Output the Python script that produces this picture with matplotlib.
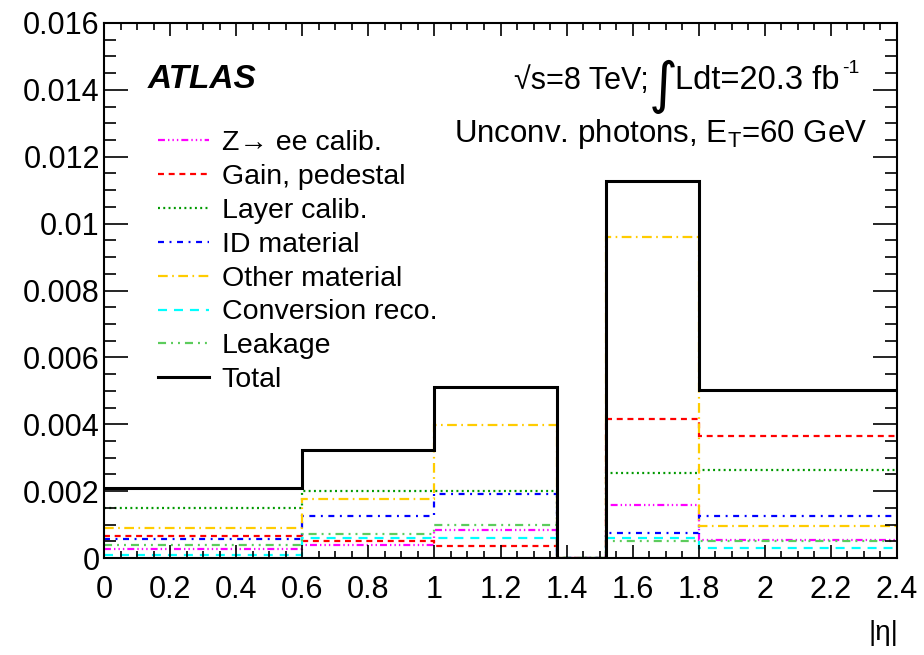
import matplotlib.pyplot as plt
from matplotlib.ticker import MultipleLocator

plt.rcParams['font.family'] = ['Liberation Sans', 'DejaVu Sans']
plt.rcParams['mathtext.fontset'] = 'custom'
plt.rcParams['mathtext.rm'] = 'Liberation Sans'
plt.rcParams['mathtext.it'] = 'Liberation Sans:italic'
plt.rcParams['lines.scale_dashes'] = False

W, H = 924, 655

# |eta| bin edges
edges = [0, 0.6, 1.0, 1.37, 1.52, 1.8, 2.4]

# uncertainties per bin
zee_calib = [0.00027, 0.00039, 0.00083, 0.0, 0.0016, 0.00053]
gain_pedestal = [0.00067, 0.00052, 0.00036, 0.0, 0.00417, 0.00364]
layer_calib = [0.00151, 0.0020, 0.0020, 0.0, 0.00255, 0.00263]
id_material = [0.00057, 0.00126, 0.0019, 0.0, 0.00074, 0.00125]
other_material = [0.00089, 0.00175, 0.00397, 0.0, 0.0096, 0.00096]
conversion_reco = [0.0001, 0.00061, 0.00061, 0.0, 0.00061, 0.00031]
leakage = [0.0004, 0.00071, 0.0010, 0.0, 0.0005, 0.0005]
total = [0.00208, 0.00322, 0.0051, 0.0, 0.01127, 0.00502]

series = [
    (zee_calib, 'Z\u2192 ee calib.', '#ff00ff', (0, (5, 2.2, 1, 2.2, 1, 2.2, 1, 2.2))),
    (gain_pedestal, 'Gain, pedestal', '#ff0000', (0, (4.3, 3.4))),
    (layer_calib, 'Layer calib.', '#009900', (0, (1.4, 2.4))),
    (id_material, 'ID material', '#0000ff', (0, (4.3, 4, 1.4, 4))),
    (other_material, 'Other material', '#ffcc00', (0, (7, 3.2, 1.2, 3.2))),
    (conversion_reco, 'Conversion reco.', '#00ffff', (0, (6.5, 5))),
    (leakage, 'Leakage', '#5ccc5c', (0, (5.8, 3.6, 1.4, 3.6, 1.4, 3.6))),
]


def px(x, y):
    # pixel position (from top left) -> figure fraction
    return x / W, 1 - y / H


fig = plt.figure(figsize=(W / 100, H / 100), dpi=100)
ax = fig.add_axes([104 / W, 1 - 558 / H, 793 / W, 535 / H])

for vals, lab, col, ls in series:
    ax.stairs(vals, edges, baseline=None, color=col, linestyle=ls, linewidth=1.6, label=lab)
ax.stairs(total, edges, baseline=None, color='black', linewidth=2.2, label='Total')

ax.set_xlim(0, 2.4)
ax.set_ylim(0, 0.016)
ax.xaxis.set_major_locator(MultipleLocator(0.2))
ax.xaxis.set_minor_locator(MultipleLocator(0.05))
ax.yaxis.set_major_locator(MultipleLocator(0.002))
ax.yaxis.set_minor_locator(MultipleLocator(0.0005))


def xfmt(v, pos):
    s = '%.1f' % v
    return s.rstrip('0').rstrip('.')


def yfmt(v, pos):
    if abs(v) < 1e-12:
        return '0'
    return ('%.3f' % v).rstrip('0')


ax.xaxis.set_major_formatter(plt.FuncFormatter(xfmt))
ax.yaxis.set_major_formatter(plt.FuncFormatter(yfmt))
ax.tick_params(which='both', direction='in', top=True, right=True, labelsize=22)
ax.tick_params(axis='x', which='major', length=9.5, width=1.2, pad=12)
ax.tick_params(axis='x', which='minor', length=5, width=1.2)
ax.tick_params(axis='y', which='major', length=17, width=1.2, pad=3)
ax.tick_params(axis='y', which='minor', length=8.5, width=1.2)
for sp in ax.spines.values():
    sp.set_linewidth(1.5)

ax.legend(loc='upper left', bbox_to_anchor=(0.0534, 0.822), frameon=False,
          fontsize=20.5, handlelength=1.8, handletextpad=0.45,
          labelspacing=0.28, borderaxespad=0)

fig.text(*px(148, 88), 'ATLAS', fontsize=24, fontweight='bold',
         fontstyle='italic', va='baseline', ha='left')

# energy / luminosity line, built in pieces like the ROOT latex
fig.text(*px(649, 89), '\u221as=8 TeV;', fontsize=22, va='baseline', ha='right')
fig.text(*px(663, 87), '\u222b', fontsize=40, va='center', ha='center',
         family='DejaVu Sans')
fig.text(*px(675, 89), 'Ldt=20.3 fb', fontsize=23.5, va='baseline', ha='left')
fig.text(*px(842, 73), '-1', fontsize=14, va='baseline', ha='left')

fig.text(*px(867, 142), r'Unconv. photons, E$_{\mathrm{T}}$=60 GeV', fontsize=22.5,
         va='baseline', ha='right')

fig.text(*px(898, 640), '|\u03b7|', fontsize=20, ha='right', va='baseline')

fig.savefig('out.png', dpi=100)
